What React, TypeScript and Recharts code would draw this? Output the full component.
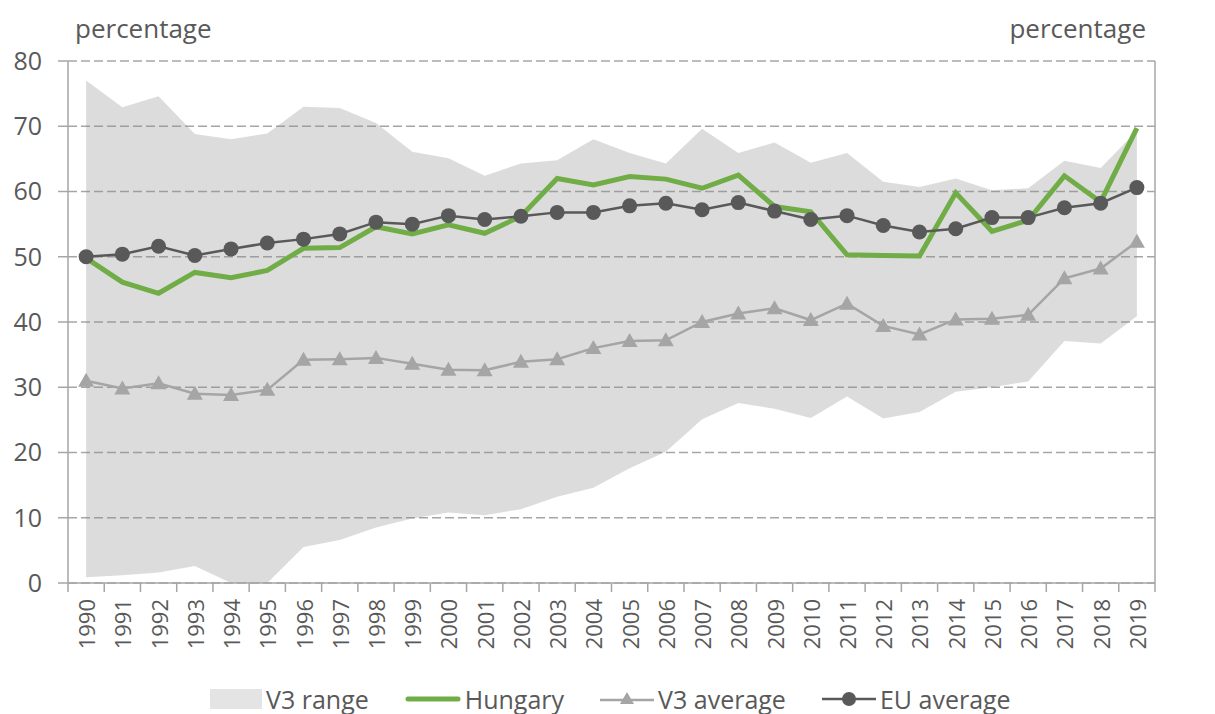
import React from 'react';
import { ComposedChart, Area, Line, XAxis, YAxis, CartesianGrid } from 'recharts';

const years = ['1990', '1991', '1992', '1993', '1994', '1995', '1996', '1997', '1998', '1999', '2000', '2001', '2002', '2003', '2004', '2005', '2006', '2007', '2008', '2009', '2010', '2011', '2012', '2013', '2014', '2015', '2016', '2017', '2018', '2019'];

const hungary = [49.8, 46.1, 44.4, 47.6, 46.8, 47.9, 51.3, 51.4, 54.6, 53.5, 54.9, 53.6, 56.2, 62.0, 61.0, 62.3, 61.9, 60.5, 62.5, 57.7, 56.9, 50.3, 50.2, 50.1, 59.8, 53.9, 55.6, 62.4, 58.4, 69.7];
const euAverage = [50.0, 50.4, 51.6, 50.2, 51.2, 52.1, 52.7, 53.5, 55.3, 55.0, 56.3, 55.7, 56.2, 56.8, 56.8, 57.8, 58.2, 57.2, 58.3, 57.0, 55.7, 56.3, 54.8, 53.8, 54.3, 56.0, 56.0, 57.5, 58.2, 60.6];
const v3Average = [31.0, 29.8, 30.6, 29.0, 28.8, 29.6, 34.2, 34.3, 34.5, 33.6, 32.7, 32.6, 33.9, 34.3, 36.0, 37.1, 37.2, 40.0, 41.3, 42.1, 40.3, 42.8, 39.4, 38.1, 40.4, 40.5, 41.1, 46.7, 48.2, 52.3];
const v3Low = [0.9, 1.2, 1.6, 2.6, 0.0, 0.0, 5.5, 6.6, 8.5, 9.9, 10.8, 10.4, 11.3, 13.2, 14.6, 17.6, 20.1, 25.1, 27.6, 26.7, 25.3, 28.6, 25.2, 26.2, 29.3, 30.0, 30.9, 37.1, 36.7, 40.9];
const v3High = [77.0, 72.9, 74.6, 68.8, 68.0, 68.9, 73.0, 72.8, 70.5, 66.1, 65.1, 62.4, 64.3, 64.8, 68.0, 65.9, 64.3, 69.6, 65.9, 67.5, 64.4, 65.9, 61.5, 60.7, 62.0, 60.2, 60.5, 64.7, 63.6, 69.3];

const yTicks = [0, 10, 20, 30, 40, 50, 60, 70, 80];

const data = years.map((year, i) => ({
  year,
  range: [v3Low[i], v3High[i]],
  hungary: hungary[i],
  v3: v3Average[i],
  eu: euAverage[i],
}));

const FONT = '"Open Sans", sans-serif';
const TEXT = '#595959';
const AXIS = '#a6a6a6';
const GREEN = '#70ad47';
const LIGHT = '#a5a5a5';
const DARK = '#595959';
const AREA = '#e4e4e4';

const W = 1215;
const H = 714;
const LEFT_W = 68;
const RIGHT_W = 60;
const PLOT_W = W - LEFT_W - RIGHT_W;
const BAND = PLOT_W / years.length;

const XTick = (props: any) => {
  const { x, y, payload, index } = props;
  const left = x - BAND / 2;
  const right = x + BAND / 2;
  return (
    <g>
      <line x1={left} y1={y} x2={left} y2={y + 9} stroke={AXIS} strokeWidth={1.5} />
      {index === years.length - 1 && (
        <line x1={right} y1={y} x2={right} y2={y + 9} stroke={AXIS} strokeWidth={1.5} />
      )}
      <text
        x={x}
        y={y + 16}
        transform={`rotate(-90 ${x} ${y + 16})`}
        textAnchor="end"
        dominantBaseline="central"
        fill={TEXT}
        fontSize={22}
        fontFamily={FONT}
      >
        {payload.value}
      </text>
    </g>
  );
};

const Triangle = (props: any) => {
  const { cx, cy } = props;
  if (cx == null || cy == null) return null;
  return <path d={`M${cx},${cy - 8} L${cx + 8},${cy + 6} L${cx - 8},${cy + 6} Z`} fill={LIGHT} />;
};

const legendItems = [
  { label: 'V3 range', kind: 'area' },
  { label: 'Hungary', kind: 'green' },
  { label: 'V3 average', kind: 'tri' },
  { label: 'EU average', kind: 'dot' },
];

const LegendIcon = ({ kind }: { kind: string }) => {
  if (kind === 'area') {
    return <svg width={52} height={22}><rect x={0} y={1} width={52} height={20} fill={AREA} /></svg>;
  }
  if (kind === 'green') {
    return <svg width={56} height={22}><line x1={3} y1={11} x2={53} y2={11} stroke={GREEN} strokeWidth={5} strokeLinecap="round" /></svg>;
  }
  if (kind === 'tri') {
    return (
      <svg width={54} height={22}>
        <line x1={0} y1={12} x2={54} y2={12} stroke={LIGHT} strokeWidth={2.5} />
        <path d="M27,4 L34,16 L20,16 Z" fill={LIGHT} />
      </svg>
    );
  }
  return (
    <svg width={54} height={22}>
      <line x1={0} y1={11} x2={54} y2={11} stroke={DARK} strokeWidth={2.5} />
      <circle cx={27} cy={11} r={7} fill={DARK} />
    </svg>
  );
};

export default function App() {
  return (
    <div style={{ position: 'absolute', left: 0, top: 0, width: W, height: H, background: '#fff', fontFamily: FONT }}>
      <div style={{ position: 'absolute', left: 75, top: 12, fontSize: 26, color: TEXT, lineHeight: '32px' }}>percentage</div>
      <div style={{ position: 'absolute', right: 69, top: 12, fontSize: 26, color: TEXT, lineHeight: '32px' }}>percentage</div>
      <ComposedChart width={W} height={H} data={data} margin={{ top: 61, right: 0, bottom: 0, left: 0 }}>
        <XAxis
          dataKey="year"
          height={131}
          padding={{ left: BAND / 2, right: BAND / 2 }}
          axisLine={{ stroke: AXIS, strokeWidth: 1.5 }}
          tickLine={false}
          tickSize={0}
          tickMargin={0}
          interval={0}
          tick={<XTick />}
        />
        <YAxis
          yAxisId="left"
          width={LEFT_W}
          domain={[0, 80]}
          ticks={yTicks}
          interval={0}
          axisLine={{ stroke: AXIS, strokeWidth: 1.5 }}
          tickLine={{ stroke: AXIS, strokeWidth: 1.5 }}
          tickSize={10}
          tickMargin={16}
          tick={{ fill: TEXT, fontSize: 25, fontFamily: FONT }}
        />
        <YAxis
          yAxisId="right"
          orientation="right"
          width={RIGHT_W}
          domain={[0, 80]}
          ticks={yTicks}
          interval={0}
          axisLine={{ stroke: AXIS, strokeWidth: 1.5 }}
          tickLine={{ stroke: AXIS, strokeWidth: 1.5 }}
          tickSize={10}
          tickMargin={15}
          tick={{ fill: TEXT, fontSize: 25, fontFamily: FONT }}
        />
        <CartesianGrid yAxisId="left" vertical={false} stroke={AXIS} strokeWidth={1.5} strokeDasharray="9 4" />
        <Area
          yAxisId="left"
          dataKey="range"
          type="linear"
          fill="#8a8a8a"
          fillOpacity={0.3}
          stroke="none"
          isAnimationActive={false}
        />
        <Line
          yAxisId="left"
          dataKey="hungary"
          type="linear"
          stroke={GREEN}
          strokeWidth={5}
          dot={false}
          isAnimationActive={false}
        />
        <Line
          yAxisId="left"
          dataKey="v3"
          type="linear"
          stroke={LIGHT}
          strokeWidth={2.5}
          dot={<Triangle />}
          isAnimationActive={false}
        />
        <Line
          yAxisId="left"
          dataKey="eu"
          type="linear"
          stroke={DARK}
          strokeWidth={2.5}
          dot={{ r: 7.5, fill: DARK, stroke: 'none' }}
          isAnimationActive={false}
        />
      </ComposedChart>
      <div style={{ position: 'absolute', left: 210, top: 684, display: 'flex', alignItems: 'center', gap: 36, fontSize: 25, color: TEXT, lineHeight: '30px' }}>
        {legendItems.map((item) => (
          <div key={item.label} style={{ display: 'flex', alignItems: 'center', gap: 4 }}>
            <LegendIcon kind={item.kind} />
            <span>{item.label}</span>
          </div>
        ))}
      </div>
    </div>
  );
}
